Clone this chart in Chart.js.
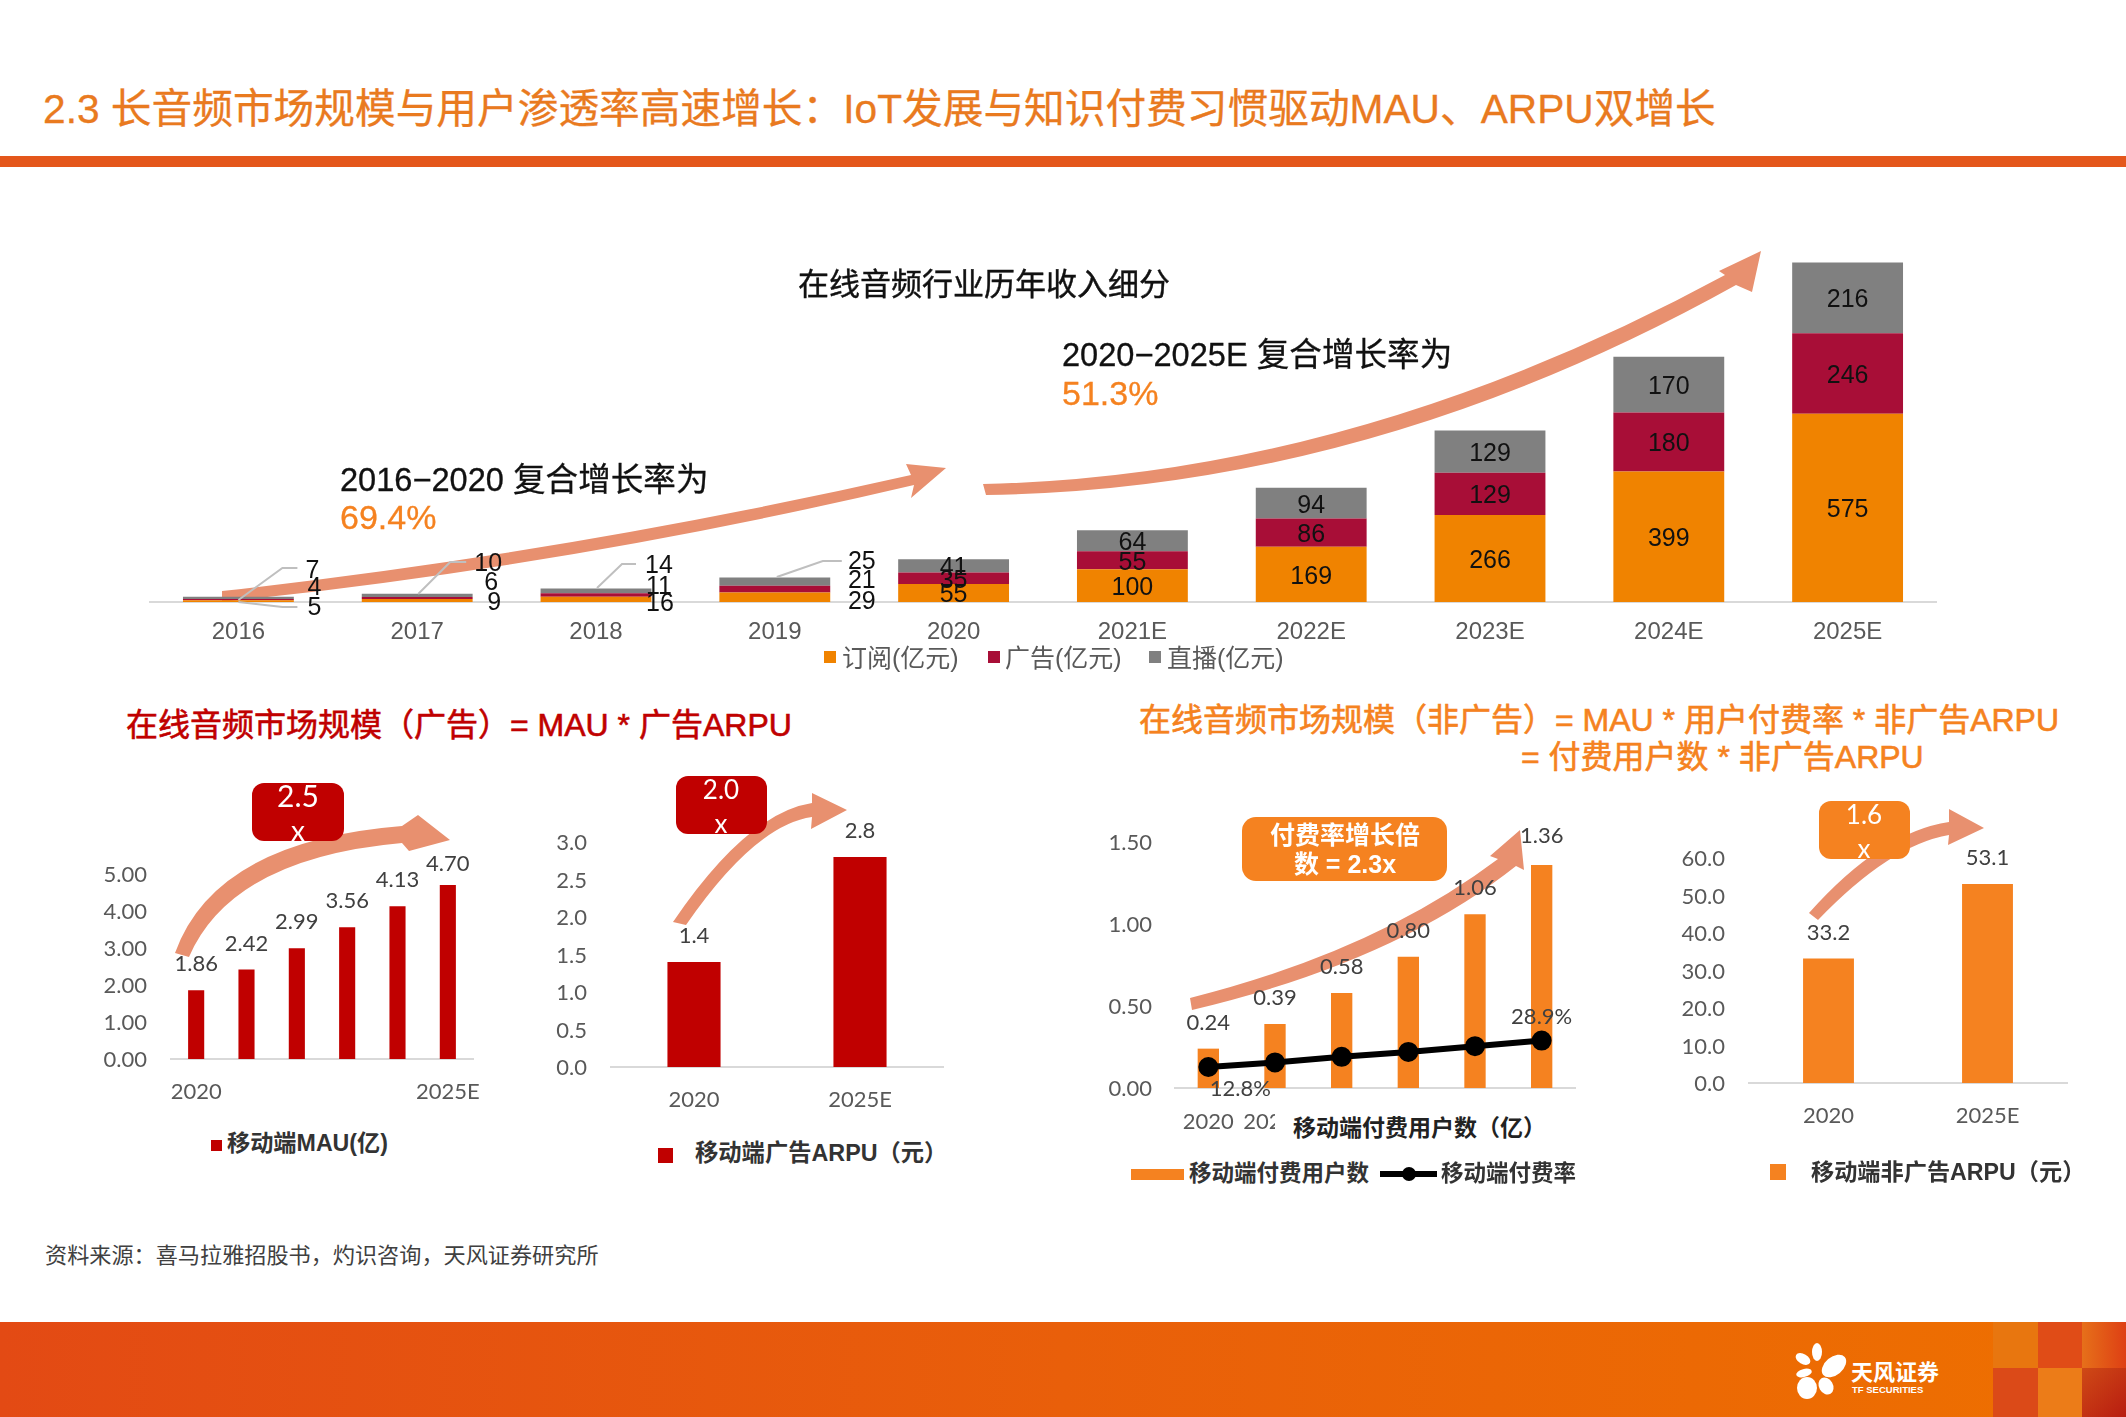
<!DOCTYPE html>
<html>
<head>
<meta charset="utf-8">
<script src="https://cdn.jsdelivr.net/npm/chart.js@4"></script>
<style>
html, body { margin: 0; padding: 0; background: #fff; }
#page { position: relative; width: 2126px; height: 1417px; overflow: hidden; font-family: "Liberation Sans", "Noto Sans CJK SC", sans-serif; }
#page canvas { position: absolute; z-index: 2; }
#arrows { position: absolute; left: 0; top: 0; z-index: 1; }
.t { position: absolute; white-space: nowrap; transform: translateY(-50%); z-index: 3; line-height: 1.2; }
.c { transform: translate(-50%, -50%); text-align: center; }
.badge { position: absolute; z-index: 3; border-radius: 12px; color: #fff; }
.sq { position: absolute; z-index: 3; }
.tile { position: absolute; }
</style>
</head>
<body>
<div id="page">
  <div class="t" style="left:43px;top:109px;font-size:40.7px;color:#E97A1F;-webkit-text-stroke:.3px #E97A1F">2.3 长音频市场规模与用户渗透率高速增长：IoT发展与知识付费习惯驱动MAU、ARPU双增长</div>
  <div style="position:absolute;left:0;top:156px;width:2126px;height:11px;background:#E4571B"></div>

  <svg id="arrows" width="2126" height="1417">
    <g fill="#E8906F">
      <path d="M222,591 Q566,553 911,475 L906,464 L946,468 L911,498 L914,485 Q570,566 222,602 Z"/>
      <path d="M983,484 Q1354,476 1725,275 L1719,271 L1761,251 L1752,292 L1736,285 Q1368,490 986,495 Z"/>
      <path d="M175,953 Q215,841 402,826 L418,815 L450,840 L409,851 L402,843 Q232,858 189,957 Z"/>
      <path d="M673,922 Q747,813 812,803 L812,793 L847,810 L811,829 L812,817 Q755,825 686,925 Z"/>
      <path d="M1190,998 Q1376,951 1498,859 L1490,856 L1520,830 L1524,870 L1516,866 Q1395,962 1192,1010 Z"/>
      <path d="M1809,913 Q1881,832 1949,822 L1949,809 L1984,828 L1948,845 L1949,835 Q1890,845 1818,920 Z"/>
    </g>
  </svg>

  <div class="t c" style="left:984px;top:285px;font-size:31px;color:#111;-webkit-text-stroke:.4px #111">在线音频行业历年收入细分</div>
  <div class="t" style="left:1062px;top:355px;font-size:32.6px;color:#111;-webkit-text-stroke:.3px #111">2020−2025E 复合增长率为</div>
  <div class="t" style="left:1062px;top:393px;font-size:34px;color:#F58220;-webkit-text-stroke:.3px #F58220">51.3%</div>
  <div class="t" style="left:340px;top:480px;font-size:32.6px;color:#111;-webkit-text-stroke:.3px #111">2016−2020 复合增长率为</div>
  <div class="t" style="left:340px;top:517px;font-size:34px;color:#F58220;-webkit-text-stroke:.3px #F58220">69.4%</div>

  <div class="t" style="left:126px;top:725px;font-size:32px;color:#C00000;-webkit-text-stroke:.6px #C00000">在线音频市场规模（广告）= MAU * 广告ARPU</div>
  <div class="t" style="left:1139px;top:720px;font-size:32px;color:#F58220;-webkit-text-stroke:.6px #F58220">在线音频市场规模（非广告）= MAU * 用户付费率 * 非广告ARPU</div>
  <div class="t" style="left:1521px;top:757px;font-size:32px;color:#F58220;-webkit-text-stroke:.6px #F58220">= 付费用户数 * 非广告ARPU</div>

  <div class="badge" style="left:252px;top:783px;width:92px;height:58px;background:#C00000"></div>
  <div class="t c" style="left:298px;top:795px;font:30px Lato;color:#fff">2.5</div>
  <div class="t c" style="left:298px;top:830px;font:28px Lato;color:#fff">x</div>
  <div class="badge" style="left:676px;top:776px;width:91px;height:58px;background:#C00000"></div>
  <div class="t c" style="left:721px;top:789px;font:26px Lato;color:#fff">2.0</div>
  <div class="t c" style="left:721px;top:823px;font:26px Lato;color:#fff">x</div>
  <div class="badge" style="left:1242px;top:817px;width:205px;height:64px;background:#F58220;border-radius:14px"></div>
  <div class="t c" style="left:1345px;top:835px;font-size:25px;color:#fff;font-weight:700">付费率增长倍</div>
  <div class="t c" style="left:1345px;top:864px;font-size:25px;color:#fff;font-weight:700">数 = 2.3x</div>
  <div class="badge" style="left:1819px;top:801px;width:91px;height:58px;background:#F58220"></div>
  <div class="t c" style="left:1864px;top:814px;font:26px Lato;color:#fff">1.6</div>
  <div class="t c" style="left:1864px;top:848px;font:26px Lato;color:#fff">x</div>

  <div class="t" style="left:1275px;top:1127px;width:300px;height:42px;background:#fff"></div>
  <div class="t" style="left:1293px;top:1129px;font-size:23px;color:#222;font-weight:700">移动端付费用户数（亿）</div>

  <div class="t" style="left:45px;top:1256px;font-size:22.15px;color:#404040">资料来源：喜马拉雅招股书，灼识咨询，天风证券研究所</div>

  <div style="position:absolute;left:0;top:1322px;width:2126px;height:95px;background:linear-gradient(90deg,#E34A14,#E95F0A 50%,#EE7000)"></div>
  <div class="tile" style="left:1993px;top:1322px;width:45px;height:46px;background:#E8760F"></div>
  <div class="tile" style="left:2038px;top:1322px;width:44px;height:46px;background:#E04C17"></div>
  <div class="tile" style="left:2082px;top:1322px;width:44px;height:46px;background:linear-gradient(90deg,#E6701A,#DE3F14)"></div>
  <div class="tile" style="left:1993px;top:1368px;width:45px;height:49px;background:#DB4A18"></div>
  <div class="tile" style="left:2038px;top:1368px;width:44px;height:49px;background:#EC7C18"></div>
  <div class="tile" style="left:2082px;top:1368px;width:44px;height:49px;background:linear-gradient(135deg,#CF4A16,#B81C10)"></div>
  <svg style="position:absolute;left:0;top:0" width="2126" height="1417">
    <g fill="#fff">
      <ellipse cx="1817" cy="1352" rx="5" ry="9"/>
      <ellipse cx="1834" cy="1366" rx="9" ry="14" transform="rotate(50 1834 1366)"/>
      <ellipse cx="1803" cy="1359" rx="8" ry="5" transform="rotate(30 1803 1359)"/>
      <ellipse cx="1804" cy="1373" rx="8" ry="4" transform="rotate(-15 1804 1373)"/>
      <ellipse cx="1807" cy="1388" rx="10" ry="11"/>
      <ellipse cx="1826" cy="1386" rx="7" ry="9" transform="rotate(-30 1826 1386)"/>
    </g>
  </svg>
  <div class="t" style="left:1851px;top:1373px;font-size:22px;color:#fff;font-weight:700">天风证券</div>
  <div class="t" style="left:1852px;top:1390px;font-size:9.5px;color:#fff;font-weight:700">TF SECURITIES</div>
</div>

<script>
// top stacked chart
const years = ['2016', '2017', '2018', '2019', '2020', '2021E', '2022E', '2023E', '2024E', '2025E'];
const subscription = [5, 9, 16, 29, 55, 100, 169, 266, 399, 575];
const ads = [4, 6, 11, 21, 35, 55, 86, 129, 180, 246];
const live = [7, 10, 14, 25, 41, 64, 94, 129, 170, 216];

// bottom charts
const mauYears = ['2020', '', '', '', '', '2025E'];
const mau = [1.86, 2.42, 2.99, 3.56, 4.13, 4.70];
const adArpuYears = ['2020', '2025E'];
const adArpu = [1.4, 2.8];
const payYears = ['2020', '2021E', '2022E', '2023E', '2024E', '2025E'];
const payUsers = [0.24, 0.39, 0.58, 0.80, 1.06, 1.36];
const payRate = [0.128, 0.156, 0.190, 0.220, 0.255, 0.289];
const nonAdArpuYears = ['2020', '2025E'];
const nonAdArpu = [33.2, 53.1];

const GREY = '#595959';
const AXIS = '#D9D9D9';
const RED = '#C00000';
const ORANGE = '#F58220';
const page = document.getElementById('page');

// where the crowded 2016-2019 labels sit: [dx from bar centre, y from baseline], per series
const crowded = [
  [[76, 5], [76, -15], [74, -32]],
  [[77, 0], [74, -20], [71, -39]],
  [[64, 1], [63, -16], [63, -37]],
  [[87, -1], [87, -22], [87, -41]]
];
// leader lines on those labels: bar index, then [dx, y from baseline] points
const leaders = [
  [0, [0, -2], [44, -34], [59, -34]],
  [0, [0, 0], [44, 5], [59, 5]],
  [1, [1, -8], [33, -40], [49, -40]],
  [2, [1, -14], [26, -38], [40, -38]],
  [3, [2, -25], [48, -41], [67, -41]]
];

const valueLabels = {
  id: 'valueLabels',
  afterDatasetsDraw(chart, args, opts) {
    const ctx = chart.ctx;
    ctx.save();
    ctx.textAlign = 'center';
    ctx.textBaseline = 'middle';
    if (opts.stacked) {
      const base = chart.scales.y.getPixelForValue(0);
      ctx.strokeStyle = '#BFBFBF';
      ctx.lineWidth = 2;
      leaders.forEach(([i, ...pts]) => {
        const cx = chart.getDatasetMeta(0).data[i].x;
        ctx.beginPath();
        pts.forEach(([dx, y], n) => n ? ctx.lineTo(cx + dx, base + y) : ctx.moveTo(cx + dx, base + y));
        ctx.stroke();
      });
      ctx.font = '25px "Liberation Sans"';
      ctx.fillStyle = '#111';
      chart.data.datasets.forEach((ds, s) => {
        chart.getDatasetMeta(s).data.forEach((bar, i) => {
          const spot = crowded[i] && crowded[i][s];
          const x = spot ? bar.x + spot[0] : bar.x;
          const y = spot ? base + spot[1] + 1.5 : (bar.y + bar.base) / 2 + 2.5;
          ctx.fillText(ds.data[i], x, y);
        });
      });
    } else {
      ctx.font = '22px Lato';
      ctx.fillStyle = '#404040';
      const bars = chart.getDatasetMeta(0).data;
      bars.forEach((bar, i) => {
        const lift = (opts.lastLift && i === bars.length - 1) ? opts.lastLift : 26;
        ctx.fillText(chart.data.datasets[0].data[i].toFixed(opts.digits), bar.x, bar.y - lift);
      });
      if (opts.rate) {
        const meta = chart.getDatasetMeta(1).data;
        const rates = chart.data.datasets[1].data;
        ctx.fillText((rates[0] * 100).toFixed(1) + '%', meta[0].x + 32, meta[0].y + 22);
        const last = meta.length - 1;
        ctx.fillText((rates[last] * 100).toFixed(1) + '%', meta[last].x, meta[last].y - 24);
      }
    }
    ctx.restore();
  }
};
Chart.register(valueLabels);

function addCanvas(left, top, width, height) {
  const c = document.createElement('canvas');
  c.width = width;
  c.height = height;
  c.style.left = left + 'px';
  c.style.top = top + 'px';
  page.appendChild(c);
  return c;
}

function legendText(left, top, text, size, color, bold) {
  const d = document.createElement('div');
  d.className = 't';
  d.style.cssText = `left:${left}px;top:${top}px;font-size:${size}px;color:${color};font-weight:${bold ? 700 : 400}`;
  d.textContent = text;
  page.appendChild(d);
}

function legendMark(left, top, w, h, color, round) {
  const d = document.createElement('div');
  d.className = 'sq';
  d.style.cssText = `left:${left}px;top:${top - h / 2}px;width:${w}px;height:${h}px;background:${color};border-radius:${round ? '50%' : '0'}`;
  page.appendChild(d);
}

// stacked revenue chart
new Chart(addCanvas(149, 242, 1788, 420), {
  type: 'bar',
  data: {
    labels: years,
    datasets: [
      { label: '订阅(亿元)', data: subscription, backgroundColor: '#F08300' },
      { label: '广告(亿元)', data: ads, backgroundColor: '#A80E37' },
      { label: '直播(亿元)', data: live, backgroundColor: '#808080' }
    ]
  },
  options: {
    responsive: false,
    animation: false,
    layout: { padding: 0 },
    datasets: { bar: { categoryPercentage: 1, barPercentage: 0.62 } },
    plugins: { legend: { display: false }, tooltip: { enabled: false }, valueLabels: { stacked: true } },
    scales: {
      x: {
        stacked: true,
        grid: { display: false, drawTicks: false },
        border: { color: AXIS, width: 2 },
        ticks: { color: GREY, font: { family: 'Liberation Sans', size: 24 }, padding: 16, maxRotation: 0, autoSkip: false },
        afterFit(s) { s.height = 60; s.paddingLeft = 0; s.paddingRight = 0; }
      },
      y: { display: false, stacked: true, min: 0, max: 1100 }
    }
  }
});

function miniChart(o) {
  const plotW = o.right - o.left;
  const plotH = o.yMax * o.perUnit;
  const datasets = [{ label: o.name, data: o.values, backgroundColor: o.color, order: 2 }];
  if (o.rate) {
    datasets.push({
      type: 'line', label: '移动端付费率', data: o.rate, order: 1,
      borderColor: '#000', backgroundColor: '#000', borderWidth: 6, pointRadius: 7
    });
  }
  return new Chart(addCanvas(o.left - 100, o.base - plotH - 40, plotW + 130, plotH + 100), {
    type: 'bar',
    data: { labels: o.labels, datasets },
    options: {
      responsive: false,
      animation: false,
      layout: { padding: { top: 40, right: 30 } },
      datasets: { bar: { categoryPercentage: 1, barPercentage: 0.32 } },
      plugins: { legend: { display: false }, tooltip: { enabled: false }, valueLabels: { digits: o.digits, rate: !!o.rate, lastLift: o.lastLift } },
      scales: {
        x: {
          grid: { display: false, drawTicks: false },
          border: { color: AXIS, width: 2 },
          ticks: { color: GREY, font: { family: 'Lato', size: 22 }, padding: o.tickPad, maxRotation: 0, autoSkip: false },
          afterFit(s) { s.height = 60; s.paddingLeft = 0; s.paddingRight = 0; }
        },
        y: {
          min: 0, max: o.yMax,
          grid: { display: false, drawTicks: false },
          border: { display: false },
          ticks: { color: GREY, font: { family: 'Lato', size: 22 }, padding: o.yPad, labelOffset: 1, stepSize: o.step, callback: v => v.toFixed(o.yDigits) },
          afterFit(s) { s.width = 100; s.paddingTop = 0; s.paddingBottom = 0; }
        }
      }
    }
  });
}

miniChart({ name: '移动端MAU(亿)', labels: mauYears, values: mau, color: RED, left: 171, right: 473, base: 1059, perUnit: 37, yMax: 5, step: 1, digits: 2, yDigits: 2, tickPad: 20, yPad: 24, lastLift: 21 });
miniChart({ name: '移动端广告ARPU（元）', labels: adArpuYears, values: adArpu, color: RED, left: 611, right: 943, base: 1067, perUnit: 75, yMax: 3, step: 0.5, digits: 1, yDigits: 1, tickPad: 20, yPad: 24 });
miniChart({ name: '移动端付费用户数', labels: payYears, values: payUsers, rate: payRate, color: ORANGE, left: 1175, right: 1575, base: 1088, perUnit: 164, yMax: 1.5, step: 0.5, digits: 2, yDigits: 2, tickPad: 21, yPad: 23, lastLift: 29 });
miniChart({ name: '移动端非广告ARPU（元）', labels: nonAdArpuYears, values: nonAdArpu, color: ORANGE, left: 1749, right: 2067, base: 1083, perUnit: 3.75, yMax: 60, step: 10, digits: 1, yDigits: 1, tickPad: 20, yPad: 24 });

// legends
[[824, 842, '订阅(亿元)', '#F08300'], [988, 1005, '广告(亿元)', '#A80E37'], [1149, 1167, '直播(亿元)', '#808080']].forEach(([mx, tx, name, col]) => {
  legendMark(mx, 657, 12, 12, col);
  legendText(tx, 658, name, 25, GREY);
});
legendMark(211, 1145, 11, 11, RED);
legendText(227, 1144, '移动端MAU(亿)', 23.2, '#333', true);
legendMark(658, 1155, 15, 15, RED);
legendText(695, 1154, '移动端广告ARPU（元）', 23.3, '#333', true);
legendMark(1131, 1174, 53, 11, ORANGE);
legendText(1189, 1173, '移动端付费用户数', 22.5, '#333', true);
legendMark(1380, 1174, 57, 6, '#000');
legendMark(1402, 1174, 14, 14, '#000', true);
legendText(1441, 1173, '移动端付费率', 22.5, '#333', true);
legendMark(1770, 1172, 16, 16, ORANGE);
legendText(1811, 1173, '移动端非广告ARPU（元）', 23.2, '#333', true);
</script>
</body>
</html>
